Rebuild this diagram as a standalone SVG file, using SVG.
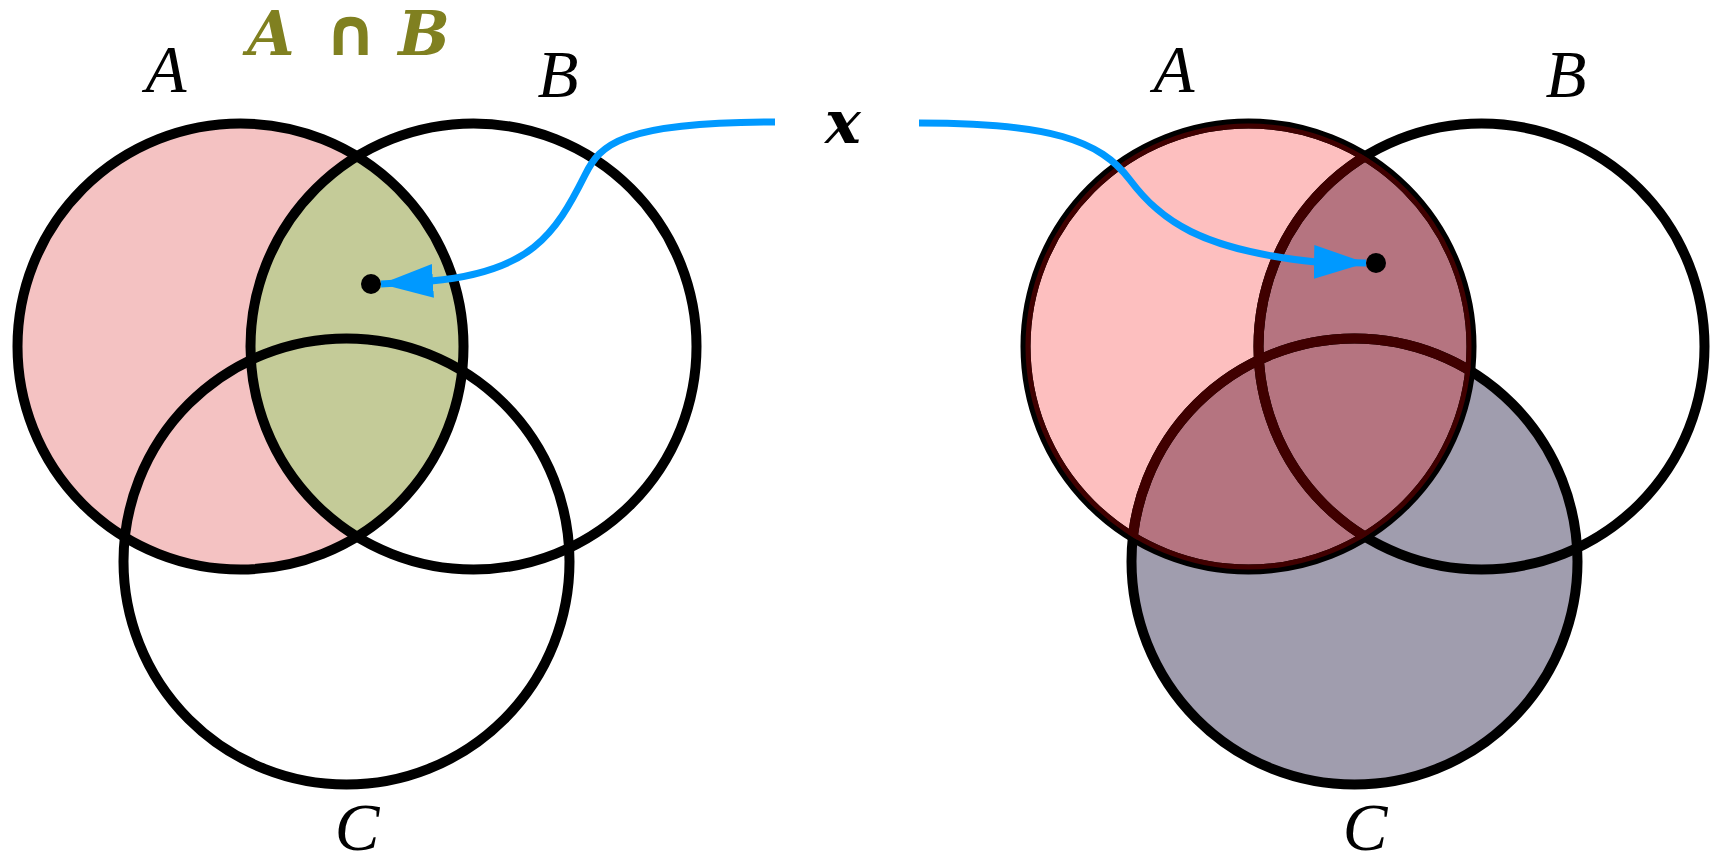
<svg xmlns="http://www.w3.org/2000/svg" width="1711" height="856" viewBox="0 0 1711 856">
  <style>
    .ring { fill: none; stroke: #000; stroke-width: 10; }
    .redring { fill: none; stroke: #400000; stroke-width: 10; }
    .lbl { font-family: "Liberation Serif", "DejaVu Serif", serif; font-style: italic; font-size: 67px; fill: #000; text-anchor: middle; }
    .olive { font-family: "DejaVu Serif", "Liberation Serif", serif; font-style: italic; font-weight: bold; font-size: 61px; fill: #808020; text-anchor: middle; }
    .cap { font-family: "DejaVu Sans", "Liberation Sans", sans-serif; font-weight: bold; font-size: 66px; fill: #808020; text-anchor: middle; }
    .xl { font-family: "DejaVu Serif", "Liberation Serif", serif; font-style: italic; font-weight: bold; font-size: 60px; fill: #000; text-anchor: middle; }
    .conn { fill: none; stroke: #0099ff; stroke-width: 7; }
    .dot { fill: #000; }
  </style>
  <defs>
    <clipPath id="clipAL"><circle cx="240.5" cy="346.5" r="223"/></clipPath>
    <clipPath id="clipAR"><circle cx="1248.5" cy="346.5" r="223"/></clipPath>
    <marker id="arrow" markerUnits="userSpaceOnUse" markerWidth="54" markerHeight="36" refX="52" refY="17" orient="auto" viewBox="0 0 54 36">
      <path d="M0,0 L52,17 L0,34 z" fill="#0099ff"/>
    </marker>
  </defs>
  <rect width="1711" height="856" fill="#fff"/>

  <g id="left-venn">
    <g id="left-A">
      <circle cx="240.5" cy="346.5" r="223" fill="#f4c2c2"/>
    </g>
    <g id="left-AB">
      <circle cx="473.5" cy="346.5" r="223" fill="#c4cb98" clip-path="url(#clipAL)"/>
    </g>
    <g id="left-rings">
      <circle class="ring" cx="240.5" cy="346.5" r="223"/>
      <circle class="ring" cx="473.5" cy="346.5" r="223"/>
      <circle class="ring" cx="346.5" cy="561.5" r="223"/>
    </g>
    <g id="left-labels">
      <text class="lbl" x="166" y="92">A</text>
      <text class="lbl" x="558" y="97">B</text>
      <text class="lbl" x="357" y="850">C</text>
    </g>
    <g id="left-title">
      <text class="olive" x="271" y="55">A</text>
      <text class="cap" x="350.5" y="55">∩</text>
      <text class="olive" x="424" y="55">B</text>
    </g>
    <circle id="left-point" class="dot" cx="371" cy="284" r="10"/>
  </g>

  <g id="right-venn">
    <g id="right-C">
      <circle cx="1354.5" cy="561.5" r="223" fill="#a09dae"/>
    </g>
    <g id="right-A">
      <circle cx="1248.5" cy="346.5" r="223" fill="#fdbfbf"/>
    </g>
    <g id="right-A-BC" clip-path="url(#clipAR)">
      <circle cx="1481.5" cy="346.5" r="223" fill="#b57480"/>
      <circle cx="1354.5" cy="561.5" r="223" fill="#b57480"/>
    </g>
    <g id="right-rings">
      <circle class="ring" cx="1248.5" cy="346.5" r="223"/>
      <circle class="ring" cx="1481.5" cy="346.5" r="223"/>
      <circle class="ring" cx="1354.5" cy="561.5" r="223"/>
    </g>
    <g id="right-red-rings" clip-path="url(#clipAR)">
      <circle class="redring" cx="1248.5" cy="346.5" r="223"/>
      <circle class="redring" cx="1481.5" cy="346.5" r="223"/>
      <circle class="redring" cx="1354.5" cy="561.5" r="223"/>
    </g>
    <g id="right-labels">
      <text class="lbl" x="1174" y="92">A</text>
      <text class="lbl" x="1566" y="97">B</text>
      <text class="lbl" x="1365" y="850">C</text>
    </g>
    <circle id="right-point" class="dot" cx="1376" cy="263" r="10"/>
  </g>

  <g id="x-label">
    <text class="xl" x="843" y="142.5">x</text>
  </g>

  <g id="connectors">
    <path class="conn" marker-end="url(#arrow)" d="M775,122 C620,122 600,145 585,175 C555,235 530,272 431,281 L381,284"/>
    <path class="conn" marker-end="url(#arrow)" d="M919,123 C1050,123 1100,140 1130,180 C1160,220 1200,250 1316,262 L1366,263"/>
  </g>
</svg>
